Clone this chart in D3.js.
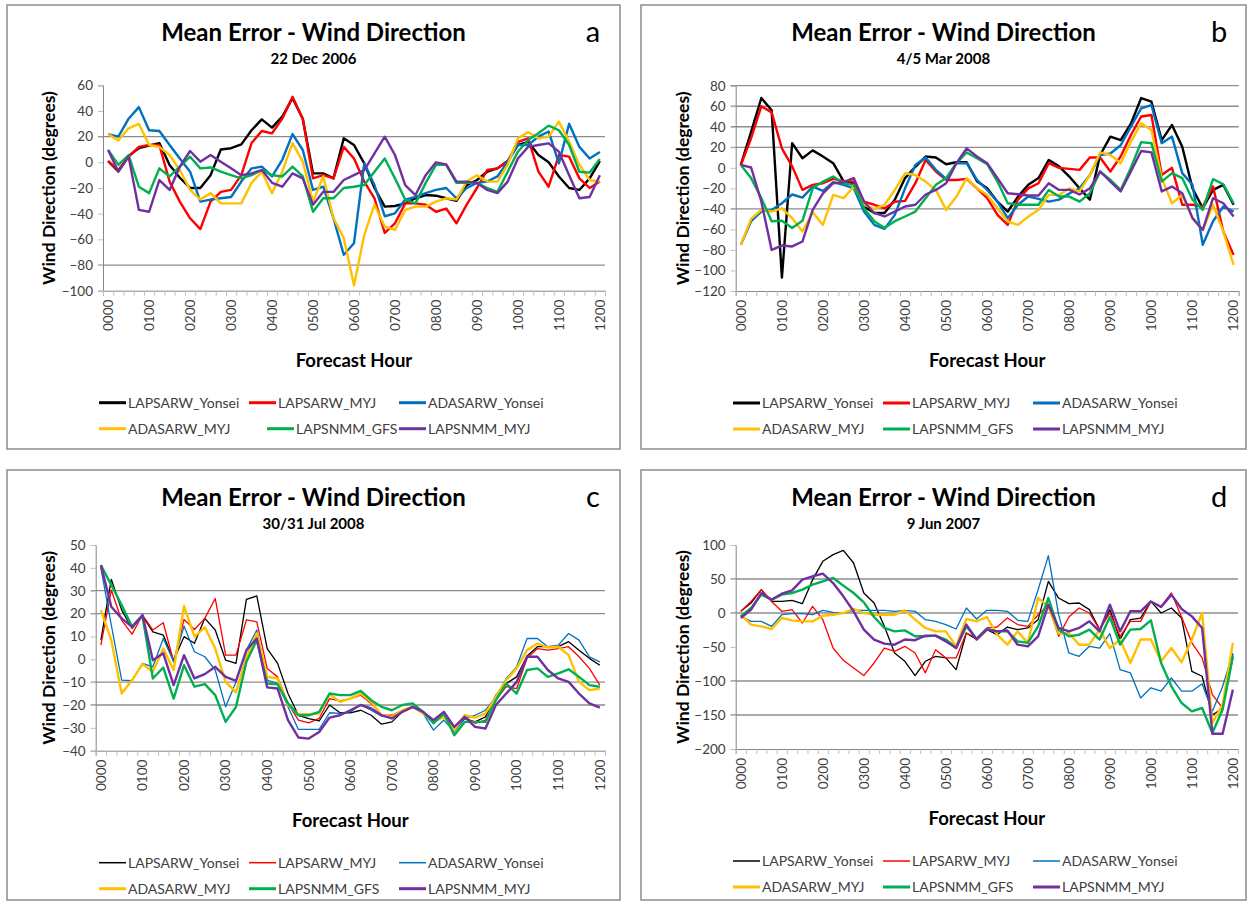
<!DOCTYPE html>
<html lang="en">
<head>
<meta charset="utf-8">
<title>Mean Error - Wind Direction</title>
<script src="https://cdn.jsdelivr.net/npm/d3@7"></script>
<style>
  body { margin: 0; background: #fff; }
  svg text { font-family: Lato, "Open Sans", sans-serif; }
  .axis .domain { stroke: #868686; }
  .axis .tick line { stroke: #bfbfbf; }
  .axis .tick text { fill: #404040; font-size: 13.5px; }
</style>
</head>
<body>
<script>
// categories: forecast hour every 15 minutes
var hours = ["0000","0015","0030","0045","0100","0115","0130","0145","0200","0215","0230","0245",
  "0300","0315","0330","0345","0400","0415","0430","0445","0500","0515","0530","0545",
  "0600","0615","0630","0645","0700","0715","0730","0745","0800","0815","0830","0845",
  "0900","0915","0930","0945","1000","1015","1030","1045","1100","1115","1130","1145","1200"];
var hourLabels = ["0000","0100","0200","0300","0400","0500","0600","0700","0800","0900","1000","1100","1200"];

var seriesNames = ["LAPSARW_Yonsei","LAPSARW_MYJ","ADASARW_Yonsei","ADASARW_MYJ","LAPSNMM_GFS","LAPSNMM_MYJ"];
var seriesColors = ["#000000","#ff0000","#0070c0","#ffc000","#00b050","#7030a0"];

// a: 22 Dec 2006
var aLapsarwYonsei = [1,-7,5,11,13,15,-2,-12,-20,-20,-10,10,11,14,25,33.5,27,35.6,50,34,-8.6,-8.6,-12.5,18.7,13.5,-0.8,-20,-34.5,-34,-32,-28,-25.5,-26,-28,-30,-17.7,-13.8,-7.3,-4.7,1,13.5,16,5.7,0,-11,-20,-21.5,-12.5,1];
var aLapsarwMyj = [1,-6,4.4,12,13.5,13.5,-15,-30.6,-43.6,-52,-30.6,-23,-21.5,-10,15,24.4,22.6,34,51,34,-12.5,-10,-12.5,12,3,-15,-28,-55,-47.5,-32,-32,-33,-38.5,-36,-47.5,-33,-20,-6,-4.7,0.5,16,18.7,-7.3,-19,5.7,4.4,-12.5,-20,-15];
var aAdasarwYonsei = [22,20,34,43,25,24.4,13.5,3,-7.3,-30.6,-29,-28,-27,-15,-4.7,-3.4,-11,2,22,9.6,-21.5,-19,-43.6,-72,-63,-0.8,-17.7,-42,-39.7,-29,-27,-24,-21.5,-20,-28,-20,-16,-15,-11,0.5,13.5,13.5,20,24,-0.8,30,12,3,8];
var aAdasarwMyj = [22,17,26.5,30,13.5,12,5.7,-6,-21.5,-29,-24,-32,-32,-32,-16,-7.3,-24,-7.3,15,0.5,-30.6,-11,-43.6,-59,-96,-56.6,-33,-50,-52.7,-37,-34.5,-34.5,-30.6,-28,-29,-15,-10,-15,-15,-2,18.7,23.4,18.7,20,31.7,16,-2,-13.8,-15];
var aLapsnmmGfs = [9.6,-2,5.7,-19,-24,-4.7,-11,-3.4,4.4,-4.7,-4,-7.3,-10,-12.5,-10,-6,-10,-11,-3.4,-11,-38.5,-28,-28,-20,-19,-17.7,-7.3,3,-12.5,-29,-32,-16,-2,-2,-16,-16,-16,-20,-23,-7.3,8.3,17.4,22.6,28.6,25,13.5,-7.3,-8,2.6];
var aLapsnmmMyj = [9.6,-7.3,4.4,-37,-38.5,-13.8,-21.5,-3.4,8.8,0.5,5.7,0.5,-4.7,-10,-8.6,-6,-16,-19,-8.6,-12.5,-33,-23,-23,-13.8,-10,-6,7,20,5.7,-17.7,-25.5,-10,0,-1.6,-15,-15,-16,-21.5,-24,-15,3,12,13.5,14.8,8.3,-10,-28,-27,-10];
var aTicks = [60,40,20,0,-20,-40,-60,-80,-100];
var aGrid = [20,-80];

// b: 4/5 Mar 2008
var bLapsarwYonsei = [2.8,35,68,56,-107,24,9.3,17,11,4.5,-13,-15,-37.7,-44,-44,-31,-10,1,11,10,3.5,5.4,5.4,-13,-20,-33,-42.6,-28,-16.6,-10,7.7,1.4,-8.5,-20,-31,12.5,30.4,27,43,68,64.4,27,41.7,20.6,-20,-39.4,-21.5,-16.6,-36];
var bLapsarwMyj = [2.8,28.8,60,54,19,1.4,-21.5,-16.6,-15,-10.8,-12.8,-13.4,-33,-36,-39.4,-33,-32.2,-15,7.7,-3.6,-11.8,-11.8,-10.8,-20,-29.6,-45.8,-55.6,-31,-20,-15,4.5,0,-1,-2,10,10,-3.6,11,32,50,51.5,-7,0,-36,-36,-37.7,-18.3,-62,-84.8];
var bAdasarwYonsei = [-75,-52,-42.6,-41,-34.5,-26,-29,-18.3,-22.5,-14,-16.6,-20,-42.6,-55.6,-59.5,-45.8,-20,2.8,10,-2,-10.8,4.5,4.5,-11.8,-21.5,-33,-49,-36,-28,-30.3,-33,-31,-25,-20,-7,12.5,14,22,40,58,61,24,30.4,-5.2,-16.6,-75,-52,-37.7,-42.6];
var bAdasarwMyj = [-75,-49.7,-41,-42.6,-39.4,-49,-62,-43.3,-55.6,-26.4,-29.6,-18.3,-36,-40,-36,-21.5,-5.3,-7,-13.4,-21.5,-41,-28,-10,-20,-26.4,-39.4,-52.3,-55.6,-47.5,-41,-26.4,-26.4,-20,-23,-7,15,12.5,4.4,25.5,43.3,36.9,-10,-34.5,-26.4,-49,-60.5,-36,-62,-94.5];
var bLapsnmmGfs = [2.8,-10,-29.6,-52,-51.6,-58.7,-51.6,-20,-13.4,-8.5,-15,-16.6,-39.4,-52,-58.7,-52,-47.4,-42.6,-29.6,-16.6,-10,4.5,15,9.3,3.5,-13.4,-34.5,-36,-36,-36,-21.5,-28,-28,-33,-24.8,-3.6,-11.8,-21.5,0,25,24,-13.4,-5.2,-10,-31,-41,-11,-16,-34.5];
var bLapsnmmMyj = [2.8,0.3,-33,-80,-75.7,-76.6,-71.8,-41,-24.8,-15,-14,-10,-33,-44,-47.4,-42.6,-37.7,-36,-26,-21.5,-15,4.5,19,11,4.5,-10,-24.8,-25.7,-27,-27,-15,-21.5,-21.5,-26,-20,-3.6,-13.4,-23,-3.6,16.4,15,-23,-18.3,-24.8,-49,-60.5,-29.6,-34.5,-47.4];
var bTicks = [80,60,40,20,0,-20,-40,-60,-80,-100,-120];
var bGrid = [80,60,40,20,-40];

// c: 30/31 Jul 2008
var cLapsarwYonsei = [8.4,35,21.5,13.5,19,12,10.6,-0.4,9.9,7,17.9,12.8,-0.4,-1.8,26.2,27.7,4.7,-1.8,-15,-24.5,-26,-27,-20,-23.4,-23.4,-22.3,-24.5,-28.4,-27.4,-23,-20.8,-23,-28,-23,-31,-26,-27.4,-25.2,-15.7,-10.6,-7.7,1.4,5.5,5.5,5.5,7.7,4,0.4,-2.6];
var cLapsarwMyj = [6.2,30.3,17,11,19.4,12.8,16,-1.1,17.4,13,17.9,26.6,1.8,1.8,17.2,16.4,-4,-7.7,-19.3,-26.6,-27.8,-25.9,-17.2,-18.2,-17.2,-15.7,-19.3,-24.5,-24.5,-22.3,-20.8,-23,-27.4,-24.5,-31,-25.2,-28,-26.6,-17.9,-12,-12.8,0.4,4.7,4,4.7,5.5,1.1,-4,-11.3];
var cAdasarwYonsei = [40,15,-9.1,-9.4,-1.8,-3.3,9.1,-1.1,14.5,3.3,1.1,-4.7,-20.8,-9.9,4,12.8,-9.1,-10.6,-20.8,-30.7,-30.7,-30.7,-23.4,-23.7,-23,-20,-22.3,-24.9,-25.2,-23,-20.8,-23.7,-31,-26.6,-31.8,-25.9,-24.5,-22.3,-16.4,-8.4,-3.3,9.1,9.1,5.5,6.2,11.3,8.4,1.1,-1.1];
var cAdasarwMyj = [21.5,8.4,-15,-9.1,-2.1,-5.5,4.7,-4.7,23.3,9.9,14,4.7,-9.9,-14.5,1.1,11.3,-7.7,-8.4,-20,-24,-24,-23.7,-15.3,-18.6,-17.2,-15,-18.6,-24.5,-25.2,-22.3,-20.8,-23.7,-27.4,-25.2,-31,-24.5,-25.5,-23.7,-16.4,-9.1,-4,4,6.9,5.2,5.5,1.8,-9.9,-13.5,-12.8];
var cLapsnmmGfs = [41.2,32.5,23.7,14.2,19,-8.4,-3.6,-17.2,-2.6,-12,-10.9,-15.7,-27.4,-20.8,-1.1,8.4,-10.6,-10.9,-19.3,-24.5,-24.5,-23,-15,-15.7,-15.7,-13.8,-17.9,-20.8,-22.3,-20,-19.3,-23,-28,-23.7,-33.2,-27.4,-27.4,-27.4,-17.9,-10.6,-15,-4.7,-4,-7.7,-6.2,-4.4,-7.7,-11.3,-12];
var cLapsnmmMyj = [41.2,23,17.9,14.2,19.4,-0.4,2.6,-11.3,1.8,-8.4,-6.5,-3.3,-7.7,-9.4,4,9.1,-12.3,-12.8,-26.6,-34.2,-34.7,-31.8,-25.5,-24.5,-22.3,-20,-21.5,-24.5,-25.9,-23,-20.8,-23,-26.6,-23,-29.6,-25.2,-29.6,-30.3,-20,-15,-9.9,1.1,1.1,-4.7,-8.4,-9.9,-15,-19.3,-21.2];
var cTicks = [50,40,30,20,10,0,-10,-20,-30,-40];
var cGrid = [30,20,-10,-20];

// d: 9 Jun 2007
var dLapsarwYonsei = [2.5,14.7,34.3,17,17,18.6,13.7,49,76,85.8,92,73.5,29.4,14.7,-19.6,-58.8,-71,-92,-71,-63.7,-66,-83.3,-29.4,-39,-24.5,-31.9,-20.6,-24.5,-22,-9.8,46.6,22,13.7,14.7,5,-24.5,5,-39,-9.8,-7.4,17,0,7.4,-7.4,-85.8,-93,-150,-140,-60];
var dLapsarwMyj = [2.5,17,34.3,17,2.5,5,-14.7,9.8,-9.8,-51.5,-69.6,-80.9,-92,-73.5,-51.5,-56.4,-49,-58.8,-88,-54,-66,-66,-29.4,-36.8,-22,-20.6,-7.4,-17,-19.6,-2.5,12.3,-34.3,-5.9,7.4,0,-24.5,0,-34.3,-12.3,-12.3,17,9.8,29.4,-5.9,-44,-66,-120,-139.7,-66];
var dAdasarwYonsei = [-5,-12.3,-12.3,-19.6,-2.5,-1,-1,-2.5,4,1,0,4,4,4,4,2.5,4,2.5,-9.8,-12.3,-17,-23.5,7.4,-8.8,4,4,2.5,-10.8,-12.3,34.3,84.3,-2.5,-58.8,-63.7,-49,-51.5,-30.4,-83.3,-88,-125,-110,-115,-95.6,-115,-115,-104,-144.6,-108,-58.8];
var dAdasarwMyj = [-2.5,-17,-19.6,-23.5,-7.4,-10.8,-12.3,-12.3,-4,-2.5,0,5.9,0,-2.5,-2.5,-2.5,4,-9.8,-22,-27,-27,-49,-8.8,-12.3,-5.9,-31.9,-46.6,-27,-44,22,9.8,-30.4,-29.4,-46.6,-46.6,-24.5,-51.5,-39,-73.5,-39,-39,-71,-51.5,-72.5,-39,0,-161.8,-134.8,-44];
var dLapsnmmGfs = [-5,7.4,27,19.6,27,29.4,34.3,41.7,46.6,51.5,40.2,29.4,15.7,-5.9,-22,-27,-25.5,-34.3,-34.3,-33.3,-39,-51.5,-19.6,-38.2,-23.5,-27,-27,-41.7,-44,-19.6,22,-24.5,-34.3,-31.9,-24.5,-39,-5.9,-46.6,-24.5,-23.5,-10.8,-73.5,-107.8,-132.4,-144.6,-139.7,-176.5,-142,-63.7];
var dLapsnmmMyj = [-7.4,5,29.4,19.6,28.4,33.3,49,54,57.8,44,24.5,2.5,-24.5,-39,-45,-46.6,-39,-40,-33.3,-33.3,-41.7,-51.5,-17,-39,-24.5,-27,-25.5,-46.6,-49,-34.3,12.3,-22,-27,-22,-12.3,-27,12.3,-27,2.5,2.5,17,8.8,27,5.9,-5,-22,-177.5,-177.5,-112.7];
var dTicks = [100,50,0,-50,-100,-150,-200];
var dGrid = [50,0,-100,-150];

var panels = [
  {letter:"a", date:"22 Dec 2006", fx:7, fy:5, fw:613, fh:444, l:103, r:605, t:85.3, b:290.7,
   ticks:aTicks, grid:aGrid, thin:false, shift2:18,
   data:[aLapsarwYonsei,aLapsarwMyj,aAdasarwYonsei,aAdasarwMyj,aLapsnmmGfs,aLapsnmmMyj]},
  {letter:"b", date:"4/5 Mar 2008", fx:641, fy:5, fw:605, fh:444, l:735.7, r:1238.7, t:85.7, b:291,
   ticks:bTicks, grid:bGrid, thin:false, shift2:0,
   data:[bLapsarwYonsei,bLapsarwMyj,bAdasarwYonsei,bAdasarwMyj,bLapsnmmGfs,bLapsnmmMyj]},
  {letter:"c", date:"30/31 Jul 2008", fx:7, fy:470, fw:613, fh:430, l:95.7, r:605, t:545, b:750.7,
   ticks:cTicks, grid:cGrid, thin:true, shift2:0,
   data:[cLapsarwYonsei,cLapsarwMyj,cAdasarwYonsei,cAdasarwMyj,cLapsnmmGfs,cLapsnmmMyj]},
  {letter:"d", date:"9 Jun 2007", fx:641, fy:470, fw:605, fh:430, l:735.7, r:1238, t:545, b:749,
   ticks:dTicks, grid:dGrid, thin:true, shift2:0,
   data:[dLapsarwYonsei,dLapsarwMyj,dAdasarwYonsei,dAdasarwMyj,dLapsnmmGfs,dLapsnmmMyj]}
];

var svg = d3.select("body").append("svg")
  .attr("width", 1250)
  .attr("height", 905);

panels.forEach(function(p) {
  var g = svg.append("g");

  // chart frame
  g.append("rect")
    .attr("x", p.fx).attr("y", p.fy)
    .attr("width", p.fw).attr("height", p.fh)
    .attr("fill", "#fff")
    .attr("stroke", "#8c8c8c")
    .attr("stroke-width", 1.5);

  var cx = p.fx + p.fw / 2;
  g.append("text")
    .attr("x", cx).attr("y", p.fy + 36)
    .attr("text-anchor", "middle")
    .style("font-size", "24px").style("font-weight", "bold")
    .text("Mean Error - Wind Direction");
  g.append("text")
    .attr("x", cx).attr("y", p.fy + 59)
    .attr("text-anchor", "middle")
    .style("font-size", "15px").style("font-weight", "bold")
    .text(p.date);
  g.append("text")
    .attr("x", p.fx + p.fw - 27).attr("y", p.fy + 37)
    .attr("text-anchor", "middle")
    .style("font-size", "29px")
    .text(p.letter);

  var x = d3.scaleBand().domain(hours).range([p.l, p.r]);
  var xEdge = d3.scaleLinear().domain([0, hours.length]).range([p.l, p.r]);
  var y = d3.scaleLinear()
    .domain([p.ticks[p.ticks.length - 1], p.ticks[0]])
    .range([p.b, p.t]);

  // gridlines
  g.selectAll(".grid")
    .data(p.grid)
    .enter().append("line")
    .attr("x1", p.l - 5).attr("x2", p.r)
    .attr("y1", function(d) { return y(d); })
    .attr("y2", function(d) { return y(d); })
    .attr("stroke", "#8c8c8c")
    .attr("stroke-width", 1.3);

  // y axis
  g.append("g")
    .attr("class", "axis")
    .attr("transform", "translate(" + p.l + ",0)")
    .call(d3.axisLeft(y).tickValues(p.ticks).tickSize(5).tickPadding(5));

  // x axis tick marks between categories
  g.append("g")
    .attr("class", "axis")
    .attr("transform", "translate(0," + p.b + ")")
    .call(d3.axisBottom(xEdge).tickValues(d3.range(0, hours.length + 1)).tickSize(5).tickFormat(""));

  // x axis labels, every hour
  g.append("g")
    .attr("class", "axis")
    .attr("transform", "translate(0," + p.b + ")")
    .call(d3.axisBottom(x).tickValues(hourLabels).tickSize(0))
    .call(function(s) { s.select(".domain").remove(); })
    .selectAll("text")
    .attr("transform", "rotate(-90)")
    .attr("x", -9).attr("y", 0).attr("dy", "0.35em")
    .style("text-anchor", "end");

  var line = d3.line()
    .x(function(d, i) { return x(hours[i]) + x.bandwidth() / 2; })
    .y(function(d) { return y(d); });

  p.data.forEach(function(vals, k) {
    g.append("path")
      .datum(vals)
      .attr("fill", "none")
      .attr("stroke", seriesColors[k])
      .attr("stroke-width", (p.thin && k < 3) ? 1.3 : 2.4)
      .attr("stroke-linejoin", "round")
      .attr("d", line);
  });

  // axis titles
  g.append("text")
    .attr("transform", "translate(" + (p.fx + 42) + "," + ((p.t + p.b) / 2) + ") rotate(-90)")
    .attr("text-anchor", "middle").attr("dy", "0.35em")
    .style("font-size", "17.5px").style("font-weight", "bold")
    .text("Wind Direction (degrees)");
  g.append("text")
    .attr("x", (p.l + p.r) / 2).attr("y", p.b + 76)
    .attr("text-anchor", "middle")
    .style("font-size", "18.5px").style("font-weight", "bold")
    .text("Forecast Hour");

  // legend
  var cols = [p.fx + 92, p.fx + 242, p.fx + 392];
  seriesNames.forEach(function(name, k) {
    var lx = cols[k % 3] + (k === 4 ? p.shift2 : 0);
    var ly = p.b + (k < 3 ? 112 : 138);
    g.append("line")
      .attr("x1", lx).attr("x2", lx + 27)
      .attr("y1", ly).attr("y2", ly)
      .attr("stroke", seriesColors[k])
      .attr("stroke-width", (p.thin && k < 3) ? 1.5 : 3);
    g.append("text")
      .attr("x", lx + 29).attr("y", ly).attr("dy", "0.35em")
      .style("font-size", "14px").style("fill", "#404040")
      .text(name);
  });
});
</script>
</body>
</html>
